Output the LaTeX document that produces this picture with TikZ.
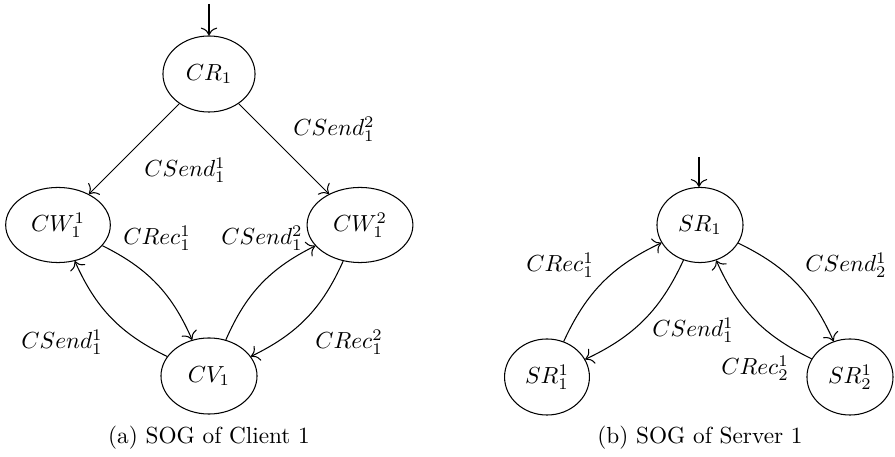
\documentclass[tikz,border=0pt]{standalone}
\usetikzlibrary{shapes.geometric,arrows.meta}
\begin{document}
\begin{tikzpicture}[x=0.43pt,y=-0.43pt,
  st/.style={draw,ellipse,inner sep=0pt,line width=0.45pt},
  tr/.style={-{To[scale=1.3]},line width=0.45pt},
  lab/.style={inner sep=1pt}]
\useasboundingbox (0,0) rectangle (895,457);
% Client graph
\node[st,minimum width=39.6pt,minimum height=32.7pt] (cr) at (209,74) {$CR_1$};
\node[st,minimum width=45pt,minimum height=32.3pt] (cw1) at (58,225) {$CW_1^1$};
\node[st,minimum width=45.5pt,minimum height=32.3pt] (cw2) at (360,225) {$CW_1^2$};
\node[st,minimum width=41.3pt,minimum height=32.7pt] (cv) at (209,376) {$CV_1$};
\coordinate (cinit) at (209,4);
\draw[tr] (cinit) -- (cr);
\draw[tr] (cr) -- (cw1);
\draw[tr] (cr) -- (cw2);
\draw[tr] (cw1) to[bend left=20] (cv);
\draw[tr] (cv) to[bend left=20] (cw1);
\draw[tr] (cv) to[bend left=20] (cw2);
\draw[tr] (cw2) to[bend left=20] (cv);
\node[lab] (l1) at (185,170) {$CSend_1^1$};
\node[lab] (l2) at (334,129) {$CSend_1^2$};
\node[lab] (l3) at (157,238) {$CRec_1^1$};
\node[lab] (l4) at (262,238) {$CSend_1^2$};
\node[lab] (l5) at (62,342) {$CSend_1^1$};
\node[lab] (l6) at (349,342) {$CRec_1^2$};
\node (capa) at (209,438) {(a) SOG of Client 1};
% Server graph
\node[st,minimum width=37pt,minimum height=32.3pt] (sr) at (700,225) {$SR_1$};
\node[st,minimum width=36.5pt,minimum height=32.7pt] (sr1) at (547,377) {$SR_1^1$};
\node[st,minimum width=37pt,minimum height=32.7pt] (sr2) at (850,377) {$SR_2^1$};
\coordinate (sinit) at (699,157);
\draw[tr] (sinit) -- (sr.north -| sinit);
\draw[tr] (sr1) to[bend left=20] (sr);
\draw[tr] (sr) to[bend left=20] (sr1);
\draw[tr] (sr) to[bend left=20] (sr2);
\draw[tr] (sr2) to[bend left=20] (sr);
\node[lab] (m1) at (560,265) {$CRec_1^1$};
\node[lab] (m2) at (693,330) {$CSend_1^1$};
\node[lab] (m3) at (846,265) {$CSend_2^1$};
\node[lab] (m4) at (755,368) {$CRec_2^1$};
\node (capb) at (700,438) {(b) SOG of Server 1};
\end{tikzpicture}
\end{document}
